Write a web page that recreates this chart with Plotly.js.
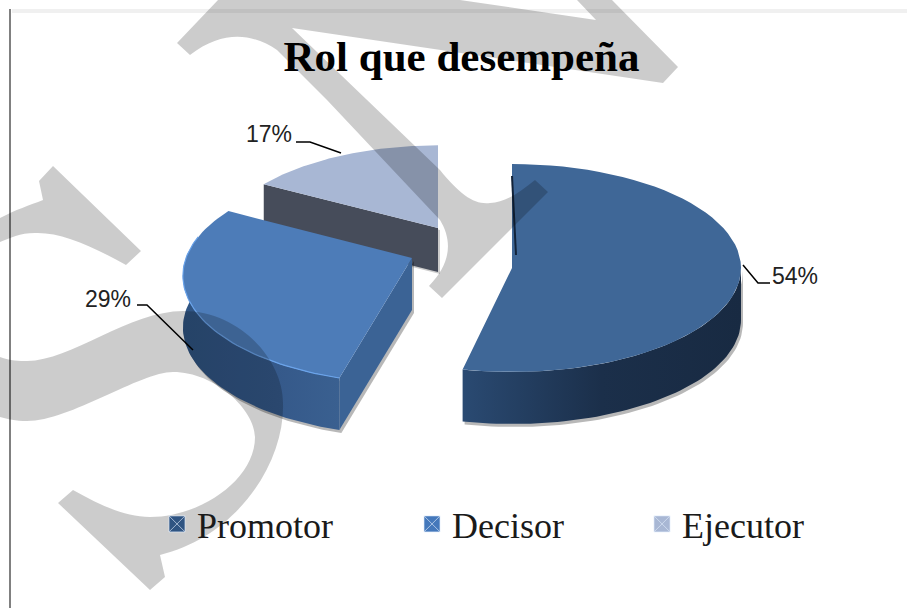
<!DOCTYPE html>
<html>
<head>
<meta charset="utf-8">
<script src="https://cdn.plot.ly/plotly-3.0.1.min.js"></script>
<style>html,body{margin:0;padding:0;background:#fff}#chart{width:907px;height:608px}</style>
</head>
<body>
<div id="chart"></div>
<script>
// ---- data ----
const categories = ['Promotor', 'Decisor', 'Ejecutor'];
const values = [54, 29, 17];
const chartTitle = 'Rol que desempeña';

// ---- look of each slice ----
const topColors = ['#3f6797', '#4d7cb8', '#a8b7d4'];
const wallColors = [
  [[0, '#2a4a72'], [0.5, '#1b2f4a'], [1, '#182a42']],
  [[0, '#2f5482'], [0.6, '#35598a'], [1, '#3a6090']],
  [[0, '#464c5a'], [1, '#464c5a']]
];
const cutColors = ['#12233a', '#3b6395', '#464c5a'];
const markerColors = ['#2f5482', '#4478bb', '#a8b7d4'];
const centerX = [512, 412, 438];
const centerY = [268, 258, 228];
const radiusX = [229, 226, 219];
const radiusY = [104, 105, 100];
const perspective = [0, 0.164, 0.21];
const depth = [52, 52, 44];
const sweepFix = [0.99, 1, 1];
const startFix = [0, 1.3, 0];

// ---- labels ----
const labelX = [795, 108, 269];
const labelY = [276, 299, 134];
const leaderX = [[743, 758, 770], [137, 147, 193], [296, 310, 341]];
const leaderY = [[265, 283, 283], [305, 305, 350], [142, 142, 153]];
const legendX = [157, 412, 642];
const legendY = 524;

// ---- watermark and frame ----
const watermark = [
  'M177,43 L218,0 L460,0 L596,20 L577,0 L612,0 L678,67 L663,83 L292,28 L440,170 C460,195 475,205 490,203 C505,203 520,192 535,180 L548,192 L442,298 L429,286 C452,262 452,240 440,220 L327,100 L277,50 C255,35 225,28 190,55 Z',
  'M53,166 L141,251 L126,265 C90,245 60,232 35,233 C20,233 10,238 0,242 L0,218 C15,210 30,205 43,200 L39,181 Z',
  'M0,357 C10,361 20,361 27,361 C70,361 130,311 183,311 C240,311 283,360 283,403 C285,460 240,535 160,555 L165,577 L150,590 L58,503 L73,490 C100,505 125,517 150,517 C200,517 255,480 255,437 C255,410 215,372 173,372 C140,372 70,421 27,421 C15,421 8,419 0,417 Z'
];

// ---- geometry from the values ----
const total = values.reduce((a, b) => a + b, 0);
const rad = d => d * Math.PI / 180;
function project(i, deg, z) {
  const u = Math.sin(rad(deg)), v = -Math.cos(rad(deg));
  const w = 1 - perspective[i] * v;
  return [centerX[i] + radiusX[i] * u / w, centerY[i] + radiusY[i] * v / w + z];
}
function arc(i, a, b, z) {
  const pts = [], n = 60;
  for (let k = 0; k <= n; k++) pts.push(project(i, a + (b - a) * k / n, z));
  return pts;
}
function poly(pts, fillcolor, extra) {
  return Object.assign({
    type: 'scatter', mode: 'lines', x: pts.map(p => p[0]), y: pts.map(p => p[1]),
    fill: 'toself', fillcolor, line: {width: 0}, showlegend: false, hoverinfo: 'skip'
  }, extra || {});
}
const starts = [], ends = [];
let run = 0;
values.forEach((val, i) => {
  const s = run * 360 / total;
  run += val;
  starts.push(s + startFix[i]);
  ends.push(s + (val * 360 / total) * sweepFix[i]);
});
const shift = (pts, dx, dy) => pts.map(p => [p[0] + dx, p[1] + dy]);
function wallTrace(i, a, b) {
  const up = arc(i, a, b, 0), down = arc(i, a, b, depth[i]).reverse();
  const pts = up.concat(down);
  return [
    poly(shift(pts, 2, 3), 'rgba(0,0,0,0.28)'),
    poly(pts, wallColors[i][0][1], {fillgradient: {type: 'horizontal', colorscale: wallColors[i]}})
  ];
}
const apex = (i, z) => [centerX[i], centerY[i] + z];
const traces = [];

// Ejecutor (back)
{
  const i = 2, e = project(i, starts[i], 0), ed = project(i, starts[i], depth[i]);
  const cut = [e, apex(i, 0), apex(i, depth[i]), ed];
  traces.push(poly(shift(cut, 2, 2), 'rgba(0,0,0,0.2)'));
  traces.push(poly(cut, cutColors[i]));
  traces.push(poly([apex(i, 0)].concat(arc(i, starts[i], ends[i], 0)), topColors[i]));
}
// Decisor (middle)
{
  const i = 1, s = project(i, starts[i], 0), sd = project(i, starts[i], depth[i]);
  const cut = [apex(i, 0), s, sd, apex(i, depth[i])];
  traces.push(poly(shift(cut, 2, 3), 'rgba(0,0,0,0.28)'));
  traces.push(...wallTrace(i, starts[i], 282));
  traces.push(poly(cut, cutColors[i]));
  traces.push(poly([apex(i, 0)].concat(arc(i, starts[i], ends[i], 0)), topColors[i]));
  const rim = arc(i, starts[i], 282, 0);
  traces.push({type: 'scatter', mode: 'lines', x: rim.map(p => p[0]), y: rim.map(p => p[1]),
    line: {color: '#6aa3ea', width: 1.2}, showlegend: false, hoverinfo: 'skip'});
}
// Promotor (front)
{
  const i = 0;
  traces.push(...wallTrace(i, 90, ends[i]));
  traces.push(poly([apex(i, 0)].concat(arc(i, starts[i], ends[i], 0)), topColors[i]));
  const p = project(i, starts[i], 0);
  traces.push({type: 'scatter', mode: 'lines', x: [p[0], apex(i, 0)[0] + 4], y: [p[1] + 12, apex(i, -13)[1]],
    line: {color: '#12233a', width: 2}, showlegend: false, hoverinfo: 'skip'});
}
// Leader lines
categories.forEach((c, i) => traces.push({type: 'scatter', mode: 'lines', x: leaderX[i], y: leaderY[i],
  line: {color: '#000', width: 1.5}, showlegend: false, hoverinfo: 'skip'}));
// Legend entries
categories.forEach((c, i) => traces.push({
  type: 'scatter', mode: 'markers', name: c, x: [null], y: [null],
  legend: i === 0 ? 'legend' : 'legend' + (i + 1),
  marker: {symbol: 'square-x', size: 16, color: markerColors[i], line: {color: 'rgba(225,235,250,0.65)', width: 1}}
}));

const legendBase = i => ({
  x: legendX[i] / 907, y: 1 - legendY / 608, xanchor: 'left', yanchor: 'middle',
  bgcolor: 'rgba(0,0,0,0)', borderwidth: 0,
  font: {family: 'Liberation Serif', size: 36, color: '#1a1a1a'},
  itemwidth: 30
});

const layout = {
  width: 907, height: 608, paper_bgcolor: '#fff', plot_bgcolor: '#fff',
  margin: {l: 0, r: 0, t: 0, b: 0},
  xaxis: {range: [0, 907], visible: false, fixedrange: true},
  yaxis: {range: [608, 0], visible: false, fixedrange: true},
  title: {text: chartTitle, x: 461.5 / 907, xanchor: 'center', y: 1 - 56 / 608, yanchor: 'middle',
    font: {family: 'Liberation Serif', size: 43, color: '#000', weight: 'bold'}},
  legend: legendBase(0), legend2: legendBase(1), legend3: legendBase(2),
  annotations: categories.map((c, i) => ({
    x: labelX[i], y: labelY[i], xref: 'x', yref: 'y', text: values[i] + '%', showarrow: false,
    font: {family: 'Liberation Sans', size: 23, color: '#222'}
  })),
  shapes: [
    {type: 'line', x0: 10, x1: 10, y0: 9, y1: 608, xref: 'x', yref: 'y', layer: 'below', line: {color: '#808080', width: 2}},
    {type: 'rect', x0: 12, x1: 907, y0: 9, y1: 13, xref: 'x', yref: 'y', layer: 'below', fillcolor: '#f0f0f0', line: {width: 0}}
  ].concat(watermark.map(path => ({
    type: 'path', path, xref: 'x', yref: 'y', layer: 'above', fillcolor: 'rgba(0,0,0,0.2)', line: {width: 0}
  })))
};
Plotly.newPlot('chart', traces, layout, {displayModeBar: false, staticPlot: true});
</script>
</body>
</html>
